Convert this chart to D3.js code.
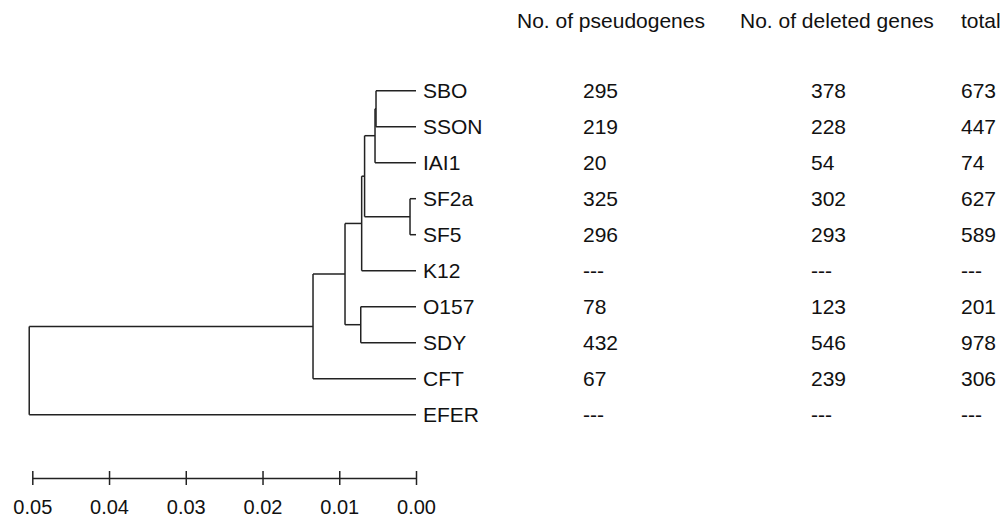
<!DOCTYPE html>
<html>
<head>
<meta charset="utf-8">
<script src="https://cdn.jsdelivr.net/npm/d3@7"></script>
<style>
  body { margin: 0; background: #fff; }
  svg text { font-family: "Liberation Sans", Arial, sans-serif; fill: #111; }
</style>
</head>
<body>
<div id="chart"></div>
<script>
// tree nodes: id, parent, height (distance from tips)
const nodes = [
  { id: "root", height: 0.0504 },
  { id: "H", parent: "root", height: 0.01342 },
  { id: "F", parent: "H", height: 0.00925 },
  { id: "E", parent: "F", height: 0.00708 },
  { id: "D", parent: "E", height: 0.0067 },
  { id: "B", parent: "D", height: 0.00534 },
  { id: "A", parent: "B", height: 0.00521 },
  { id: "SBO", parent: "A", height: 0 },
  { id: "SSON", parent: "A", height: 0 },
  { id: "IAI1", parent: "B", height: 0 },
  { id: "C", parent: "D", height: 0.00078 },
  { id: "SF2a", parent: "C", height: 0 },
  { id: "SF5", parent: "C", height: 0 },
  { id: "K12", parent: "E", height: 0 },
  { id: "G", parent: "F", height: 0.0072 },
  { id: "O157", parent: "G", height: 0 },
  { id: "SDY", parent: "G", height: 0 },
  { id: "CFT", parent: "H", height: 0 },
  { id: "EFER", parent: "root", height: 0 },
]

const strains = ["SBO", "SSON", "IAI1", "SF2a", "SF5", "K12", "O157", "SDY", "CFT", "EFER"]
const pseudogenes = ["295", "219", "20", "325", "296", "---", "78", "432", "67", "---"]
const deletedGenes = ["378", "228", "54", "302", "293", "---", "123", "546", "239", "---"]
const totals = ["673", "447", "74", "627", "589", "---", "201", "978", "306", "---"]
const headers = ["No. of pseudogenes", "No. of deleted genes", "total"]
const axisTicks = [0.05, 0.04, 0.03, 0.02, 0.01, 0.00]

const width = 1003, height = 517
const svg = d3.select('#chart').append('svg')
  .attr('width', width).attr('height', height)

const x = d3.scaleLinear().domain([0.05, 0]).range([32.3, 416])
const firstY = 72.7, lastY = 432.7

const root = d3.stratify().id(d => d.id).parentId(d => d.parent)(nodes)
const cluster = d3.cluster().size([lastY - firstY, 1]).separation(() => 1)
cluster(root)
root.each(d => { d.py = d.x + firstY; d.px = x(d.data.height) })

const g = svg.append('g')
  .attr('fill', 'none').attr('stroke', '#222').attr('stroke-width', 1.5)

// vertical joins
root.descendants().filter(d => d.children).forEach(d => {
  const ys = d.children.map(c => c.py)
  g.append('line')
    .attr('x1', d.px).attr('x2', d.px)
    .attr('y1', d3.min(ys)).attr('y2', d3.max(ys))
})
// horizontal branches
root.descendants().filter(d => d.parent).forEach(d => {
  g.append('line')
    .attr('x1', d.parent.px).attr('x2', d.px)
    .attr('y1', d.py).attr('y2', d.py)
})

const leafY = {}
root.leaves().forEach(d => { leafY[d.id] = d.py })

svg.append('g').selectAll('text')
  .data(strains)
  .join('text')
  .attr('x', x(0) + 7)
  .attr('y', d => leafY[d] + 7.5)
  .attr('font-size', 21)
  .text(d => d)

// table columns
const colHeadX = [517, 740, 961]
const colValX = [583, 811, 961]
const columns = [pseudogenes, deletedGenes, totals]

svg.append('g').selectAll('text')
  .data(headers)
  .join('text')
  .attr('x', (d, i) => colHeadX[i])
  .attr('y', 28)
  .attr('font-size', 21)
  .text(d => d)

columns.forEach((col, i) => {
  svg.append('g').selectAll('text')
    .data(col)
    .join('text')
    .attr('x', colValX[i])
    .attr('y', (d, j) => leafY[strains[j]] + 7.5)
    .attr('font-size', 21)
    .text(d => d)
})

// scale bar
const axis = d3.axisBottom(x).tickValues(axisTicks)
  .tickFormat(d3.format('.2f')).tickSizeOuter(0).tickSizeInner(7)
const ax = svg.append('g').attr('transform', 'translate(0,478)').call(axis)
ax.select('.domain').attr('stroke', '#222').attr('stroke-width', 1.5)
ax.selectAll('.tick line').attr('stroke', '#222').attr('stroke-width', 1.5)
  .attr('y1', -7).attr('y2', 7)
ax.selectAll('.tick text')
  .attr('y', 36).attr('dy', 0)
  .attr('font-size', 20)
  .attr('font-family', '"Liberation Sans", Arial, sans-serif')
  .attr('fill', '#111')
</script>
</body>
</html>
